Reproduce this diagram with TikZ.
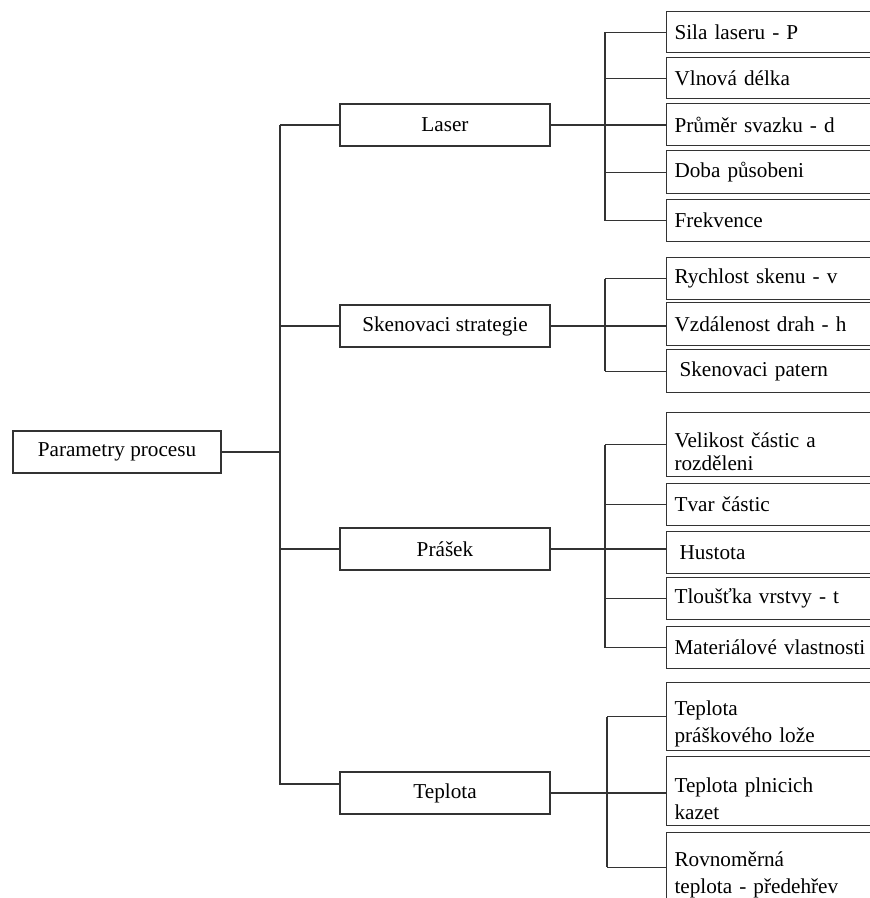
\documentclass[tikz,border=0pt]{standalone}
\usepackage{fontspec}
\setmainfont{Liberation Serif}
\tikzset{
  box/.style={draw=black!80, line width=1.1pt, fill=white,
    font=\fontsize{21.2}{24}\selectfont},
  topbox/.style={box, minimum width=210pt, minimum height=42pt, inner sep=0pt},
  rootbox/.style={box, minimum width=208pt, minimum height=42pt, inner sep=0pt},
  leafbox/.style={box, anchor=north west, text width=240pt, align=left,
    inner xsep=8pt, inner ysep=0pt},
  link/.style={draw=black!80, line width=1.1pt},
}
\newcommand{\tallstrut}{\rule{0pt}{30pt}}
\begin{document}
\begin{tikzpicture}[x=1pt, y=-1pt]
  \fill[white] (0,0) rectangle (870,898);
  \useasboundingbox (0,0) rectangle (870,898);
  % trunks
  \coordinate (trunk) at (280,0);
  \coordinate (sub) at (605,0);
  \coordinate (subt) at (607,0);
  \coordinate (tin) at (340,784);
  % root and first level
  \node[rootbox] (root) at (117,452) {Parametry procesu};
  \node[topbox] (laser) at (445,125) {Laser};
  \node[topbox] (sken) at (445,326) {Skenovaci strategie};
  \node[topbox] (prasek) at (445,549) {Prášek};
  \node[topbox] (teplota) at (445,793) {Teplota};
  % second level
  \node[leafbox, minimum height=41pt] (sila) at (666,11) {Sila laseru - P};
  \node[leafbox, minimum height=41pt] (vlna) at (666,57) {Vlnová délka};
  \node[leafbox, minimum height=42pt] (prumer) at (666,103) {Průměr svazku - d};
  \node[leafbox, minimum height=43pt] (doba) at (666,150) {Doba působeni};
  \node[leafbox, minimum height=42pt] (frekv) at (666,199) {Frekvence};
  \node[leafbox, minimum height=42pt] (rychl) at (666,257) {Rychlost skenu - v};
  \node[leafbox, minimum height=43pt] (vzdal) at (666,302) {Vzdálenost drah - h};
  \node[leafbox, minimum height=43pt] (patern) at (666,349) {\hspace{5pt}Skenovaci patern};
  \node[leafbox, minimum height=64pt] (velik) at (666,412)
    {\tallstrut Velikost částic a\\[-1pt] rozděleni};
  \node[leafbox, minimum height=42pt] (tvar) at (666,483) {Tvar částic};
  \node[leafbox, minimum height=42pt] (hust) at (666,531) {\hspace{5pt}Hustota};
  \node[leafbox, minimum height=42pt] (tlous) at (666,577) {Tloušťka vrstvy - t};
  \node[leafbox, minimum height=42pt] (mater) at (666,626) {Materiálové vlastnosti};
  \node[leafbox, minimum height=68pt] (tloze) at (666,682)
    {\tallstrut Teplota\\[3pt] práškového lože};
  \node[leafbox, minimum height=69pt] (tkazet) at (666,756)
    {\tallstrut Teplota plnicich\\[3pt] kazet};
  \node[leafbox, minimum height=69pt] (tpredeh) at (666,832)
    {\tallstrut Rovnoměrná\\[3pt] teplota - předehřev};
  % root to first level
  \draw[link] (root.east) -- (root.east -| trunk);
  \draw[link] (laser.west -| trunk) -- (tin -| trunk) -- (tin);
  \draw[link] (laser.west) -- (laser.west -| trunk);
  \draw[link] (sken.west) -- (sken.west -| trunk);
  \draw[link] (prasek.west) -- (prasek.west -| trunk);
  % laser
  \draw[link] (laser.east) -- (laser.east -| prumer.west);
  \draw[link] (sila.west -| sub) -- (frekv.west -| sub);
  \draw[link] (sila.west) -- (sila.west -| sub);
  \draw[link] (vlna.west) -- (vlna.west -| sub);
  \draw[link] (doba.west) -- (doba.west -| sub);
  \draw[link] (frekv.west) -- (frekv.west -| sub);
  % skenovaci strategie
  \draw[link] (sken.east) -- (sken.east -| vzdal.west);
  \draw[link] (rychl.west -| sub) -- (patern.west -| sub);
  \draw[link] (rychl.west) -- (rychl.west -| sub);
  \draw[link] (patern.west) -- (patern.west -| sub);
  % prasek
  \draw[link] (prasek.east) -- (prasek.east -| hust.west);
  \draw[link] (velik.west -| sub) -- (mater.west -| sub);
  \draw[link] (velik.west) -- (velik.west -| sub);
  \draw[link] (tvar.west) -- (tvar.west -| sub);
  \draw[link] (tlous.west) -- (tlous.west -| sub);
  \draw[link] (mater.west) -- (mater.west -| sub);
  % teplota
  \draw[link] (teplota.east) -- (teplota.east -| tkazet.west);
  \draw[link] (tloze.west -| subt) -- (tpredeh.west -| subt);
  \draw[link] (tloze.west) -- (tloze.west -| subt);
  \draw[link] (tpredeh.west) -- (tpredeh.west -| subt);
\end{tikzpicture}
\end{document}
